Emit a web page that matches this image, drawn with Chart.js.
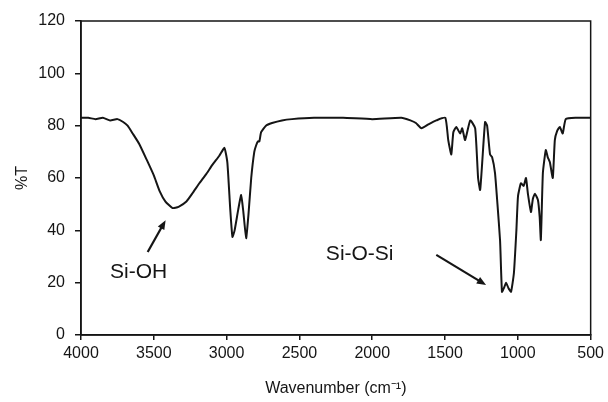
<!DOCTYPE html>
<html>
<head>
<meta charset="utf-8">
<script src="https://cdn.jsdelivr.net/npm/chart.js@4/dist/chart.umd.min.js"></script>
<style>
  html, body { margin: 0; padding: 0; background: #fff; }
  #wrap { width: 608px; height: 402px; }
</style>
</head>
<body>
<div id="wrap"><canvas id="irChart" width="608" height="402"></canvas></div>
<script>
// spectrum (wavenumber in cm-1, transmittance in %)
const wavenumbers = [
  4000, 3950, 3900, 3850, 3800, 3750, 3713, 3680, 3645, 3600, 3549, 3500, 3460, 3420,
  3371, 3330, 3276, 3230, 3187, 3140, 3098, 3050, 3015, 2995, 2975, 2960, 2945, 2920,
  2900, 2885, 2866, 2850, 2831, 2810, 2797, 2785, 2775, 2763, 2730, 2688, 2620, 2551,
  2400, 2200, 2000, 1800, 1738, 1700, 1662, 1614, 1560, 1498, 1478, 1457, 1443, 1423,
  1396, 1382, 1362, 1327, 1293, 1273, 1259, 1245, 1225, 1211, 1191, 1177, 1157, 1140,
  1122, 1109, 1095, 1081, 1065, 1047, 1027, 1010, 999, 979, 960, 944, 931, 910,
  897, 883, 862, 850, 842, 828, 808, 795, 780, 760, 746, 730, 712, 692,
  671, 600, 500
];
const transmittance = [
  83, 83, 82.5, 83, 82, 82.5, 81.5, 80, 77, 73, 67, 61, 55, 51,
  48.5, 49, 51, 54.5, 58, 61.5, 65, 68.5, 71.5, 66, 48, 37.5, 40, 48,
  53.5, 47, 37, 46, 60, 70, 72.5, 74, 74, 77.5, 80, 81, 82, 82.5,
  83, 83, 82.5, 83, 82, 81, 79, 80.5, 82, 83, 74.5, 69, 77.5, 79.5,
  77, 79, 74.5, 82, 79, 60, 55.4, 65.7, 81.4, 80, 69, 68, 62, 50,
  36, 16.5, 18, 20, 18, 16.5, 23.7, 40, 53, 58, 57, 60, 54, 47,
  52, 54, 51.6, 45, 36.3, 62, 70.7, 68, 66, 60, 74.5, 78, 79.5, 77,
  82.5, 83, 83
];
const xTicks = [4000, 3500, 3000, 2500, 2000, 1500, 1000, 500];
const yTicks = [0, 20, 40, 60, 80, 100, 120];

// band labels: text anchor and arrow tail -> head, all in data units
const bandLabels = ['Si-OH', 'Si-O-Si'];
const labelAt = [[3604, 21.8], [2086, 28.7]];
const arrowFrom = [[3542, 31.7], [1560, 30.6]];
const arrowTo = [[3419, 43.9], [1218, 19.1]];

const INK = '#151515';
Chart.defaults.font.family = "'Liberation Sans', Arial, sans-serif";
Chart.defaults.color = INK;

const framePlugin = {
  id: 'frame',
  afterDatasetsDraw(chart) {
    const { ctx, chartArea: a, scales: { x, y } } = chart;
    ctx.save();
    ctx.strokeStyle = INK;
    ctx.lineWidth = 1.5;
    ctx.strokeRect(a.left, a.top, a.right - a.left, a.bottom - a.top);

    ctx.fillStyle = INK;
    ctx.font = "21px 'Liberation Sans', Arial, sans-serif";
    ctx.textAlign = 'center';
    ctx.textBaseline = 'alphabetic';
    bandLabels.forEach((txt, i) => {
      ctx.fillText(txt, x.getPixelForValue(labelAt[i][0]), y.getPixelForValue(labelAt[i][1]));

      const x0 = x.getPixelForValue(arrowFrom[i][0]), y0 = y.getPixelForValue(arrowFrom[i][1]);
      const x1 = x.getPixelForValue(arrowTo[i][0]), y1 = y.getPixelForValue(arrowTo[i][1]);
      const ang = Math.atan2(y1 - y0, x1 - x0);
      const head = 10;
      ctx.lineWidth = 2.2;
      ctx.beginPath();
      ctx.moveTo(x0, y0);
      ctx.lineTo(x1 - Math.cos(ang) * head * 0.7, y1 - Math.sin(ang) * head * 0.7);
      ctx.stroke();
      ctx.beginPath();
      ctx.moveTo(x1, y1);
      ctx.lineTo(x1 - head * Math.cos(ang - 0.38), y1 - head * Math.sin(ang - 0.38));
      ctx.lineTo(x1 - head * Math.cos(ang + 0.38), y1 - head * Math.sin(ang + 0.38));
      ctx.closePath();
      ctx.fill();
    });
    ctx.restore();
  }
};

new Chart(document.getElementById('irChart'), {
  type: 'line',
  data: {
    datasets: [{
      data: wavenumbers.map((w, i) => ({ x: w, y: transmittance[i] })),
      borderColor: INK,
      borderWidth: 2,
      pointRadius: 0,
      tension: 0.15,
      fill: false
    }]
  },
  options: {
    responsive: false,
    animation: false,
    layout: { padding: { left: 0, right: 15, top: 21, bottom: 0 } },
    plugins: { legend: { display: false }, tooltip: { enabled: false } },
    scales: {
      x: {
        type: 'linear',
        reverse: true,
        min: 500,
        max: 4000,
        afterBuildTicks: s => { s.ticks = xTicks.map(v => ({ value: v })); },
        ticks: { font: { size: 16 }, padding: 4, maxRotation: 0, autoSkip: false, callback: v => String(v) },
        grid: { drawOnChartArea: false, drawTicks: true, tickLength: 5, color: INK, lineWidth: 1.5 },
        border: { display: true, color: INK, width: 1.5 },
        title: { display: true, text: 'Wavenumber (cm⁻¹)', font: { size: 16 }, padding: { top: 10 } },
        afterFit: s => { s.height = 67; }
      },
      y: {
        min: 0,
        max: 120,
        afterBuildTicks: s => { s.ticks = yTicks.map(v => ({ value: v })); },
        ticks: { font: { size: 16 }, padding: 10, callback: v => String(v) },
        grid: { drawOnChartArea: false, drawTicks: true, tickLength: 6, color: INK, lineWidth: 1.5 },
        border: { display: true, color: INK, width: 1.5 },
        title: { display: true, text: '%T', font: { size: 16 }, padding: { top: 13, bottom: 4 } },
        afterFit: s => { s.width = 81; }
      }
    }
  },
  plugins: [framePlugin]
});
</script>
</body>
</html>
